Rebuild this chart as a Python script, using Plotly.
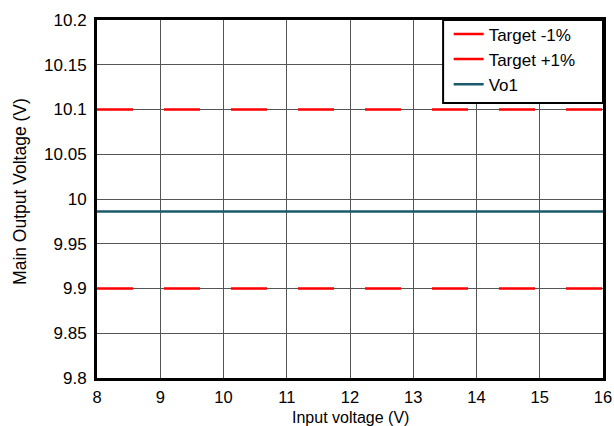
import plotly.graph_objects as go

input_voltage = [8, 9, 10, 11, 12, 13, 14, 15, 16]
target_minus = [9.9] * 9
target_plus = [10.1] * 9
vo1 = [9.986] * 9
x_ticks = [8, 9, 10, 11, 12, 13, 14, 15, 16]
y_ticks = [9.8, 9.85, 9.9, 9.95, 10, 10.05, 10.1, 10.15, 10.2]
y_labels = ["9.8", "9.85", "9.9", "9.95", "10", "10.05", "10.1", "10.15", "10.2"]

fig = go.Figure()
fig.add_trace(go.Scatter(x=input_voltage, y=target_minus, mode="lines", name="Target -1%",
                         line=dict(color="#ff0000", width=2.5, dash="36px,31px")))
fig.add_trace(go.Scatter(x=input_voltage, y=target_plus, mode="lines", name="Target +1%",
                         line=dict(color="#ff0000", width=2.5, dash="36px,31px")))
fig.add_trace(go.Scatter(x=input_voltage, y=vo1, mode="lines", name="Vo1",
                         line=dict(color="#1b5a6a", width=2.5)))

font = "Liberation Sans, Arial, sans-serif"
fig.update_layout(
    width=614, height=426,
    margin=dict(l=97, r=11, t=20, b=48),
    paper_bgcolor="white", plot_bgcolor="white",
    font=dict(family=font, size=17, color="black"),
    showlegend=True,
    legend=dict(x=0.695, y=1.01, xanchor="left", yanchor="top",
                borderwidth=0, bgcolor="rgba(0,0,0,0)",
                font=dict(size=17), tracegroupgap=0),
    xaxis=dict(range=[8, 16], tickvals=x_ticks, showgrid=True, gridcolor="#555", gridwidth=1,
               showline=True, linecolor="black", linewidth=3, mirror=True, ticks="",
               zeroline=False, automargin=False, ticklabelstandoff=2,
               tickfont=dict(size=16.5)),
    yaxis=dict(range=[9.8, 10.2], tickvals=y_ticks, ticktext=y_labels, showgrid=True,
               gridcolor="#555", gridwidth=1, showline=True, linecolor="black", linewidth=3,
               mirror=True, ticks="", zeroline=False, automargin=False, ticklabelstandoff=4,
               tickfont=dict(size=17)),
    shapes=[dict(type="rect", xref="paper", yref="paper", x0=0.684, x1=1.0, y0=0.768, y1=1.0,
                 line=dict(color="black", width=2), fillcolor="white", layer="above")],
    annotations=[
        dict(text="Input voltage (V)", xref="paper", yref="paper", x=0.5, y=-0.11,
             xanchor="center", yanchor="middle", showarrow=False, font=dict(size=16)),
        dict(text="Main Output Voltage (V)", xref="paper", yref="paper", x=-0.152, y=0.52,
             xanchor="center", yanchor="middle", textangle=-90, showarrow=False,
             font=dict(size=17.5)),
    ],
)
fig.write_html("out.html", config={"displayModeBar": False},
               post_script="document.body.style.margin='0';")
